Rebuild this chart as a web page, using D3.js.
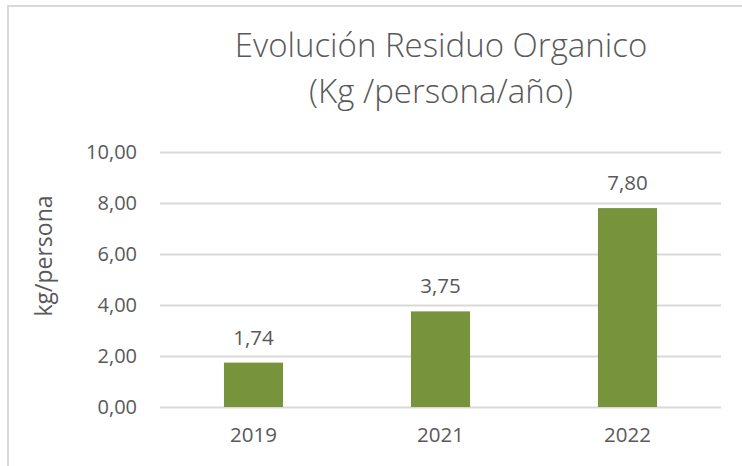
<!DOCTYPE html>
<html lang="es">
	<head>
		<meta charset="utf-8">
		<title>Evolución Residuo Organico</title>
		<script src="https://cdnjs.cloudflare.com/ajax/libs/d3/7.1.1/d3.min.js"></script>
		<style type="text/css">
		body{
			margin: 0;
			background-color: white;
		}
		text{
			font-family: 'Open Sans', sans-serif;
			fill: #595959;
		}
		</style>
	</head>
	<body>
		<div id="viz"></div>
		<script type="text/javascript">
			const years = ["2019", "2021", "2022"];
			const values = [1.74, 3.75, 7.80];
			const yTicks = [0, 2, 4, 6, 8, 10];
			const titleLines = ["Evolución Residuo Organico", "(Kg /persona/año)"];
			const yTitle = "kg/persona";

			const width = 742;
			const height = 466;
			const plotLeft = 160;
			const plotRight = 721;
			const plotTop = 152;
			const plotBottom = 407;

			const fmt = v => d3.format(".2f")(v).replace(".", ",");

			const svg = d3.select("#viz")
				.append("svg")
				.attr("width", width)
				.attr("height", height);

			// chart frame (only top and left edges show in the crop)
			svg.append("path")
				.attr("d", "M8,466 L8,6 L742,6")
				.attr("fill", "none")
				.attr("stroke", "#d9d9d9")
				.attr("stroke-width", 2);

			const x = d3.scaleBand()
				.domain(years)
				.range([plotLeft, plotRight])
				.paddingInner(0.684)
				.paddingOuter(0.342);

			const y = d3.scaleLinear()
				.domain([0, 10])
				.range([plotBottom, plotTop]);

			// gridlines + y labels
			const yAxis = svg.append("g")
				.attr("transform", `translate(${plotLeft},0)`)
				.call(d3.axisLeft(y)
					.tickValues(yTicks)
					.tickSize(-(plotRight - plotLeft))
					.tickPadding(23)
					.tickFormat(fmt));
			yAxis.select(".domain").remove();
			yAxis.selectAll("line")
				.attr("stroke", "#d9d9d9")
				.attr("stroke-width", 2);
			yAxis.selectAll("text")
				.attr("font-size", 20)
				.attr("font-family", "'Open Sans', sans-serif")
				.attr("fill", "#595959");

			// x labels
			const xAxis = svg.append("g")
				.attr("transform", `translate(0,${plotBottom})`)
				.call(d3.axisBottom(x).tickSize(0).tickPadding(20));
			xAxis.select(".domain").remove();
			xAxis.selectAll("text")
				.attr("font-size", 20.5)
				.attr("font-family", "'Open Sans', sans-serif")
				.attr("fill", "#595959");

			// bars
			svg.append("g")
				.selectAll("rect")
				.data(values)
				.enter()
				.append("rect")
					.attr("x", (d, i) => x(years[i]))
					.attr("y", d => y(d))
					.attr("width", x.bandwidth())
					.attr("height", d => y(0) - y(d))
					.attr("fill", "#77933c");

			// value labels
			svg.append("g")
				.selectAll("text")
				.data(values)
				.enter()
				.append("text")
					.attr("x", (d, i) => x(years[i]) + x.bandwidth() / 2)
					.attr("y", d => y(d) - 18)
					.attr("text-anchor", "middle")
					.attr("font-size", 20.5)
					.text(d => fmt(d));

			// title
			svg.append("g")
				.selectAll("text")
				.data(titleLines)
				.enter()
				.append("text")
					.attr("x", 441)
					.attr("y", (d, i) => 57 + i * 46)
					.attr("text-anchor", "middle")
					.attr("font-size", 33)
					.attr("font-weight", 300)
					.text(d => d);

			// y axis title
			svg.append("text")
				.attr("transform", "translate(52,256) rotate(-90)")
				.attr("text-anchor", "middle")
				.attr("font-size", 23)
				.text(yTitle);
		</script>
	</body>
</html>
